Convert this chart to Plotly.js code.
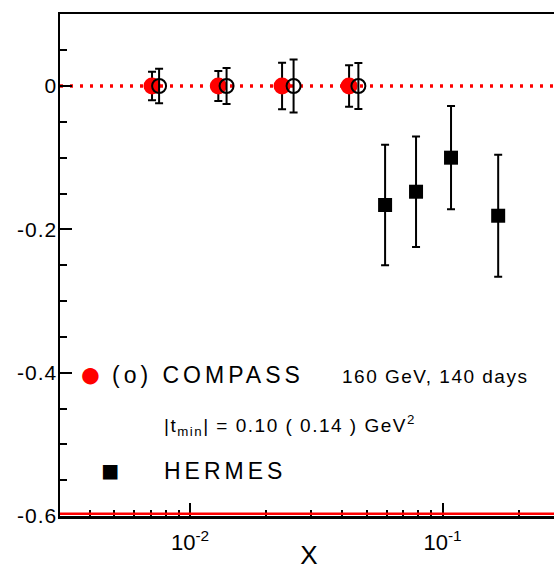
<!DOCTYPE html>
<html>
<head>
<meta charset="utf-8">
<script src="https://cdn.plot.ly/plotly-3.0.1.min.js"></script>
<style>
  html, body { margin: 0; padding: 0; overflow: hidden; background: #fff; }
  #chart { width: 558px; height: 570px; }
  .ytick text { letter-spacing: 1px; }
</style>
</head>
<body>
<div id="chart"></div>
<script>
// ---- data ----
const compassX = [0.00707, 0.01294, 0.02314, 0.04263];
const compassY = [0, 0, 0, 0];
const compassErr = [0.020, 0.021, 0.0325, 0.029];

const compassOpenX = [0.00754, 0.01395, 0.0257, 0.0464];
const compassOpenY = [0, 0, 0, 0];
const compassOpenErr = [0.024, 0.025, 0.037, 0.032];

const hermesX = [0.0592, 0.0785, 0.108, 0.166];
const hermesY = [-0.166, -0.1475, -0.100, -0.181];
const hermesErr = [0.084, 0.077, 0.072, 0.085];

// ---- ticks ----
const yMajorVals = [0, -0.2, -0.4, -0.6];
const yMajorText = ['0', '-0.2', '-0.4', '-0.6'];
const yMinorVals = [0.1, 0.05, -0.05, -0.1, -0.15, -0.25, -0.3, -0.35, -0.45, -0.5, -0.55];
const xMajorVals = [0.01, 0.1];
const xMajorText = ['10<sup>-2</sup>', '10<sup>-1</sup>'];
const xMinorVals = [0.004, 0.005, 0.006, 0.007, 0.008, 0.009,
                    0.02, 0.03, 0.04, 0.05, 0.06, 0.07, 0.08, 0.09, 0.2];

// ---- geometry helpers (pixel -> paper) ----
const L = 60, T = 14, W = 558, H = 570, B = 54, R = 0;
const PW = W - L - R, PH = H - T - B;
const px = x => (x - L) / PW;
const py = y => (H - B - y) / PH;

const FONT = 'Liberation Sans, Arial, Helvetica, sans-serif';

const errStyle = (arr) => ({type: 'data', array: arr, visible: true, color: '#000', thickness: 2, width: 4});

const traces = [
  {
    x: compassX, y: compassY, type: 'scatter', mode: 'markers',
    marker: {symbol: 'circle', size: 17, color: '#ff0000'},
    error_y: errStyle(compassErr), showlegend: false, hoverinfo: 'skip'
  },
  {
    x: compassOpenX, y: compassOpenY, type: 'scatter', mode: 'markers',
    marker: {symbol: 'circle-open', size: 14, color: '#000', line: {width: 2, color: '#000'}},
    error_y: errStyle(compassOpenErr), showlegend: false, hoverinfo: 'skip'
  },
  {
    x: hermesX, y: hermesY, type: 'scatter', mode: 'markers',
    marker: {symbol: 'square', size: 14, color: '#000'},
    error_y: errStyle(hermesErr), showlegend: false, hoverinfo: 'skip'
  }
];

const layout = {
  width: W, height: H,
  margin: {l: L, r: R, t: T, b: B, pad: 0},
  paper_bgcolor: '#fff', plot_bgcolor: '#fff',
  font: {family: FONT, color: '#000'},
  showlegend: false,
  xaxis: {
    type: 'log',
    range: [-2.515, -0.543],
    showgrid: false, zeroline: false,
    showline: true, linecolor: '#000', linewidth: 2.5, mirror: true,
    ticks: 'inside', ticklen: 13, tickwidth: 2, tickcolor: '#000',
    tickmode: 'array', tickvals: xMajorVals, ticktext: xMajorText,
    tickfont: {family: FONT, size: 22, color: '#000'},
    ticklabelstandoff: 5,
    minor: {tickmode: 'array', tickvals: xMinorVals, ticks: 'inside', ticklen: 6, tickwidth: 2, tickcolor: '#000', showgrid: false},
    title: {text: 'X', font: {family: FONT, size: 26, color: '#000'}, standoff: 8},
    fixedrange: true
  },
  yaxis: {
    range: [-0.6, 0.1005],
    showgrid: false, zeroline: false,
    showline: true, linecolor: '#000', linewidth: 2.5, mirror: true,
    ticks: 'inside', ticklen: 12, tickwidth: 2, tickcolor: '#000',
    tickmode: 'array', tickvals: yMajorVals, ticktext: yMajorText,
    tickfont: {family: FONT, size: 21, color: '#000'},
    ticklabelstandoff: -4,
    minor: {tickmode: 'array', tickvals: yMinorVals, ticks: 'inside', ticklen: 7, tickwidth: 2, tickcolor: '#000', showgrid: false},
    fixedrange: true
  },
  shapes: [
    {type: 'line', xref: 'paper', yref: 'y', x0: 0, x1: 1, y0: 0, y1: 0,
     line: {color: '#ff0000', width: 3.5, dash: '3px,7px'}, layer: 'below'},
    {type: 'line', xref: 'paper', yref: 'paper', x0: 0, x1: 1, y0: py(513.8), y1: py(513.8),
     line: {color: '#ff0000', width: 2.5}, layer: 'above'}
  ],
  annotations: [
    {xref: 'paper', yref: 'paper', x: px(90), y: py(374), xanchor: 'center', yanchor: 'middle',
     text: '●', showarrow: false, font: {family: FONT, size: 38, color: '#ff0000'}},
    {xref: 'paper', yref: 'paper', x: px(110), y: py(375), xanchor: 'left', yanchor: 'middle',
     text: '<span style="letter-spacing:4px">(o) COMPASS</span>', showarrow: false,
     font: {family: FONT, size: 23, color: '#000'}},
    {xref: 'paper', yref: 'paper', x: px(340), y: py(376), xanchor: 'left', yanchor: 'middle',
     text: '<span style="letter-spacing:1.5px">160 GeV, 140 days</span>', showarrow: false,
     font: {family: FONT, size: 19, color: '#000'}},
    {xref: 'paper', yref: 'paper', x: px(162), y: py(426), xanchor: 'left', yanchor: 'middle',
     text: '<span style="letter-spacing:1.5px">|t<sub>min</sub>| = 0.10 ( 0.14 ) GeV<sup>2</sup></span>', showarrow: false,
     font: {family: FONT, size: 19, color: '#000'}},
    {xref: 'paper', yref: 'paper', x: px(110), y: py(470), xanchor: 'center', yanchor: 'middle',
     text: '■', showarrow: false, font: {family: FONT, size: 30, color: '#000'}},
    {xref: 'paper', yref: 'paper', x: px(162), y: py(471), xanchor: 'left', yanchor: 'middle',
     text: '<span style="letter-spacing:4px">HERMES</span>', showarrow: false,
     font: {family: FONT, size: 23, color: '#000'}}
  ]
};

Plotly.newPlot('chart', traces, layout, {staticPlot: true, displayModeBar: false});
</script>
</body>
</html>
